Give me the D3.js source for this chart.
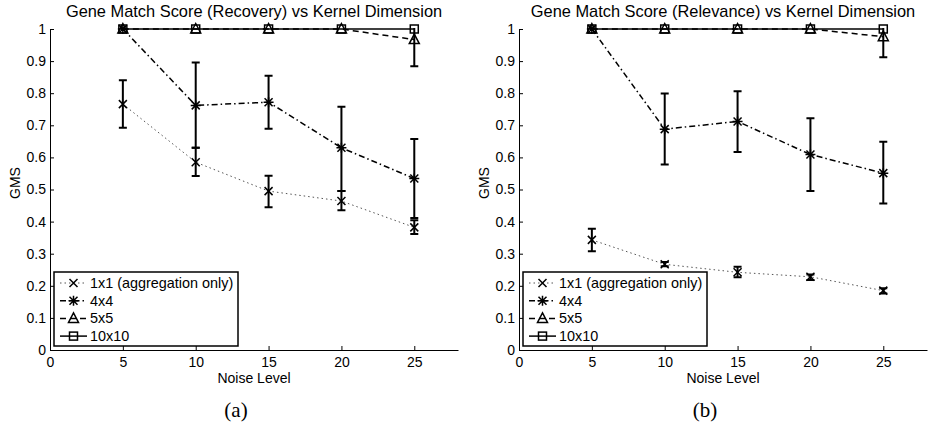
<!DOCTYPE html>
<html>
<head>
<meta charset="utf-8">
<script src="https://cdn.jsdelivr.net/npm/d3@7"></script>
<style>
  html, body { margin: 0; padding: 0; background: #fff; }
  svg text { font-family: "Liberation Sans", Arial, sans-serif; fill: #000; }
  svg text.caption { font-family: "Liberation Serif", "DejaVu Serif", serif; }
</style>
</head>
<body>
<div id="chart"></div>
<script>
// Noise levels on the x axis
const noise = [5, 10, 15, 20, 25];
const seriesNames = ["1x1 (aggregation only)", "4x4", "5x5", "10x10"];

// (a) Recovery: mean, lower and upper ends of the error bars
const recMean1 = [0.766, 0.585, 0.495, 0.464, 0.382];
const recLo1   = [0.692, 0.542, 0.445, 0.435, 0.361];
const recHi1   = [0.840, 0.630, 0.543, 0.495, 0.404];
const recMean4 = [1.0, 0.762, 0.772, 0.630, 0.534];
const recLo4   = [1.0, 0.630, 0.689, 0.495, 0.411];
const recHi4   = [1.0, 0.896, 0.854, 0.758, 0.657];
const recMean5 = [1.0, 1.0, 1.0, 1.0, 0.967];
const recLo5   = [1.0, 1.0, 1.0, 1.0, 0.884];
const recHi5   = [1.0, 1.0, 1.0, 1.0, 1.05];
const recMean10 = [1.0, 1.0, 1.0, 1.0, 1.0];

// (b) Relevance
const relMean1 = [0.343, 0.267, 0.242, 0.228, 0.185];
const relLo1   = [0.308, 0.261, 0.227, 0.218, 0.176];
const relHi1   = [0.378, 0.274, 0.259, 0.235, 0.192];
const relMean4 = [1.0, 0.688, 0.712, 0.609, 0.551];
const relLo4   = [1.0, 0.578, 0.617, 0.495, 0.456];
const relHi4   = [1.0, 0.799, 0.806, 0.722, 0.649];
const relMean5 = [1.0, 1.0, 1.0, 1.0, 0.976];
const relLo5   = [1.0, 1.0, 1.0, 1.0, 0.912];
const relHi5   = [1.0, 1.0, 1.0, 1.0, 1.04];
const relMean10 = [1.0, 1.0, 1.0, 1.0, 1.0];

const xTicks = [0, 5, 10, 15, 20, 25];
const yTicks = [0, 0.1, 0.2, 0.3, 0.4, 0.5, 0.6, 0.7, 0.8, 0.9, 1];

const W = 928, H = 428;
const svg = d3.select('#chart').append('svg')
    .attr('width', W).attr('height', H);

const styles = [
    { dash: '1.5,3', width: 1, color: '#555', marker: 'x' },
    { dash: '6,3,1.5,3', width: 1.5, color: '#000', marker: 'star' },
    { dash: '6,4', width: 1.5, color: '#000', marker: 'tri' },
    { dash: null, width: 1.5, color: '#000', marker: 'square' }
];

function drawMarker(g, type, cx, cy) {
    const s = 4;
    if (type === 'x') {
        g.append('path')
            .attr('d', `M${cx - s},${cy - s}L${cx + s},${cy + s}M${cx - s},${cy + s}L${cx + s},${cy - s}`)
            .attr('stroke', '#000').attr('stroke-width', 1.5);
    } else if (type === 'star') {
        g.append('path')
            .attr('d', `M${cx - s},${cy - s}L${cx + s},${cy + s}M${cx - s},${cy + s}L${cx + s},${cy - s}` +
                       `M${cx - s - 1},${cy}L${cx + s + 1},${cy}M${cx},${cy - s - 1}L${cx},${cy + s + 1}`)
            .attr('stroke', '#000').attr('stroke-width', 1.5);
    } else if (type === 'tri') {
        g.append('path')
            .attr('d', `M${cx},${cy - 5.5}L${cx + 5},${cy + 4}L${cx - 5},${cy + 4}Z`)
            .attr('fill', 'none').attr('stroke', '#000').attr('stroke-width', 1.5);
    } else {
        g.append('rect')
            .attr('x', cx - 4).attr('y', cy - 4).attr('width', 8).attr('height', 8)
            .attr('fill', 'none').attr('stroke', '#000').attr('stroke-width', 1.5);
    }
}

function drawPanel(opts) {
    const { left, title, caption, series } = opts;
    const top = 29, bottom = 350, width = 408;

    const x = d3.scaleLinear().domain([0, 28]).range([left, left + width]);
    const y = d3.scaleLinear().domain([0, 1]).range([bottom, top]);

    const g = svg.append('g');
    const clipId = 'clip' + left;
    g.append('clipPath').attr('id', clipId)
        .append('rect').attr('x', left).attr('y', top - 1)
        .attr('width', width).attr('height', bottom - top + 1);

    // axes (MATLAB style, ticks pointing inward)
    const xAxis = g.append('g').attr('transform', `translate(0,${bottom})`)
        .call(d3.axisBottom(x).tickValues(xTicks).tickSizeInner(-4).tickSizeOuter(0).tickPadding(7));
    const yAxis = g.append('g').attr('transform', `translate(${left},0)`)
        .call(d3.axisLeft(y).tickValues(yTicks).tickSizeInner(-4).tickSizeOuter(0).tickPadding(4)
            .tickFormat(d => d === 0 || d === 1 ? d3.format('d')(d) : d3.format('.1f')(d)));
    [xAxis, yAxis].forEach(a => {
        a.selectAll('text').style('font-size', '14px').attr('fill', '#000')
            .style('font-family', '"Liberation Sans", Arial, sans-serif');
        a.select('.domain').attr('stroke', '#000').attr('stroke-width', 1);
        a.selectAll('.tick line').attr('stroke', '#000');
    });

    const plot = g.append('g').attr('clip-path', `url(#${clipId})`);

    series.forEach((s, i) => {
        const st = styles[i];
        const pts = noise.map((n, j) => ({ n, m: s.mean[j], lo: s.lo ? s.lo[j] : null, hi: s.hi ? s.hi[j] : null }));

        // error bars
        pts.forEach(p => {
            if (p.lo === null || p.hi - p.lo < 1e-6) return;
            const cx = x(p.n);
            plot.append('path')
                .attr('d', `M${cx},${y(p.lo)}L${cx},${y(p.hi)}M${cx - 4},${y(p.lo)}L${cx + 4},${y(p.lo)}M${cx - 4},${y(p.hi)}L${cx + 4},${y(p.hi)}`)
                .attr('stroke', '#000').attr('stroke-width', 2).attr('fill', 'none');
        });

        plot.append('path')
            .datum(pts)
            .attr('d', d3.line().x(d => x(d.n)).y(d => y(d.m)))
            .attr('fill', 'none')
            .attr('stroke', st.color)
            .attr('stroke-width', st.width)
            .attr('stroke-dasharray', st.dash);

        pts.forEach(p => drawMarker(g, st.marker, x(p.n), y(p.m)));
    });

    // legend
    const lg = g.append('g').attr('transform', `translate(${left + 4},${top + 243})`);
    lg.append('rect').attr('width', 184).attr('height', 74)
        .attr('fill', '#fff').attr('stroke', '#000').attr('stroke-width', 1.5);
    seriesNames.forEach((name, i) => {
        const st = styles[i];
        const ly = 11 + i * 17.7;
        lg.append('line').attr('x1', 6).attr('x2', 33).attr('y1', ly).attr('y2', ly)
            .attr('stroke', st.color).attr('stroke-width', st.width)
            .attr('stroke-dasharray', st.dash);
        drawMarker(lg, st.marker, 19.5, ly);
        lg.append('text').attr('x', 36).attr('y', ly + 5)
            .style('font-size', '14.4px').text(name);
    });

    // labels
    g.append('text').attr('x', left + 204).attr('y', 17)
        .attr('text-anchor', 'middle').style('font-size', '16.4px').text(title);
    g.append('text').attr('x', left + 204).attr('y', 383)
        .attr('text-anchor', 'middle').style('font-size', '14px').text('Noise Level');
    g.append('text').attr('transform', `translate(${left - 30},183) rotate(-90)`)
        .attr('text-anchor', 'middle').style('font-size', '14px').text('GMS');
    g.append('text').attr('class', 'caption').attr('x', left + 186).attr('y', 417)
        .attr('text-anchor', 'middle').style('font-size', '21px').text(caption);
}

drawPanel({
    left: 50,
    title: 'Gene Match Score (Recovery) vs Kernel Dimension',
    caption: '(a)',
    series: [
        { mean: recMean1, lo: recLo1, hi: recHi1 },
        { mean: recMean4, lo: recLo4, hi: recHi4 },
        { mean: recMean5, lo: recLo5, hi: recHi5 },
        { mean: recMean10 }
    ]
});

drawPanel({
    left: 519,
    title: 'Gene Match Score (Relevance) vs Kernel Dimension',
    caption: '(b)',
    series: [
        { mean: relMean1, lo: relLo1, hi: relHi1 },
        { mean: relMean4, lo: relLo4, hi: relHi4 },
        { mean: relMean5, lo: relLo5, hi: relHi5 },
        { mean: relMean10 }
    ]
});
</script>
</body>
</html>
